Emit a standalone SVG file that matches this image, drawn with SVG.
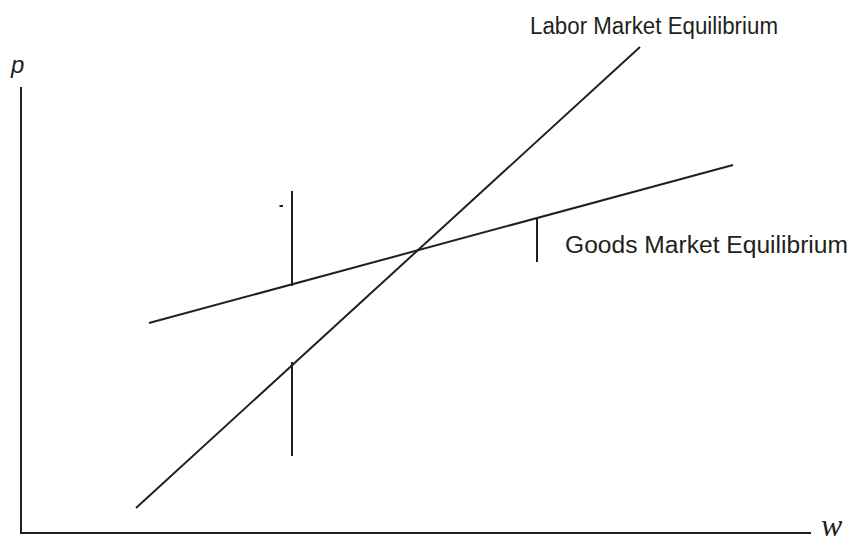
<svg xmlns="http://www.w3.org/2000/svg" width="852" height="538" viewBox="0 0 852 538">
<style>
.ax{stroke:#231f20;stroke-width:2;fill:none}
.ln{stroke:#231f20;stroke-width:2;fill:none}
.lbl{font-family:"Liberation Sans",Arial,sans-serif;font-size:23px;fill:#231f20}
</style>
<rect width="852" height="538" fill="#fff"/>
<g id="axes">
<path class="ax" d="M21,87 V533 H811"/>
<text x="11" y="73" font-family="Liberation Sans,Arial,sans-serif" font-style="italic" font-size="24" fill="#231f20">p</text>
<text x="821" y="536" font-family="Liberation Serif,Times New Roman,serif" font-style="italic" font-size="32" fill="#231f20">w</text>
</g>
<g id="labor">
<line class="ln" x1="136" y1="508" x2="640" y2="47"/>
<text class="lbl" x="530" y="34" textLength="248" lengthAdjust="spacingAndGlyphs">Labor Market Equilibrium</text>
</g>
<g id="goods">
<line class="ln" x1="149" y1="323" x2="733" y2="165"/>
<text class="lbl" x="565" y="253" textLength="283" lengthAdjust="spacingAndGlyphs">Goods Market Equilibrium</text>
</g>
<g id="connectors">
<line class="ln" x1="292" y1="191" x2="292" y2="286"/>
<line class="ln" x1="292" y1="362" x2="292" y2="456"/>
<line class="ln" x1="537" y1="218" x2="537" y2="262"/>
<line class="ln" x1="279.5" y1="206" x2="283" y2="206"/>
</g>
</svg>
